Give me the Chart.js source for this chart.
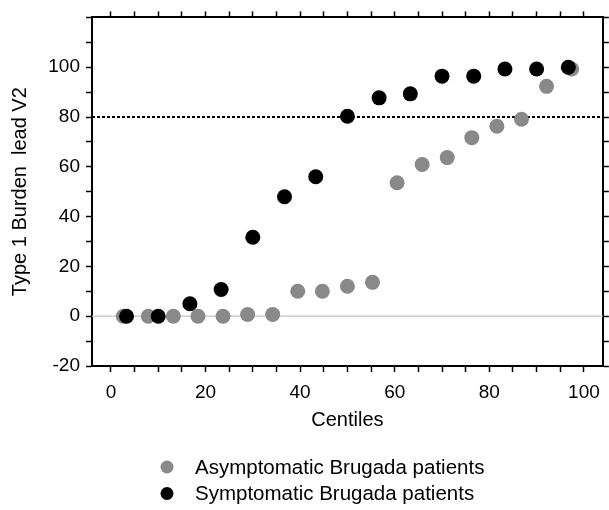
<!DOCTYPE html>
<html>
<head>
<meta charset="utf-8">
<script src="https://cdn.jsdelivr.net/npm/chart.js@4.4.1/dist/chart.umd.min.js"></script>
<style>
  html, body { margin: 0; padding: 0; background: #fff; }
  canvas { display: block; }
</style>
</head>
<body>
<canvas id="chart" width="609" height="510"></canvas>
<script>
// values (centile, type 1 burden %)
const asymCentiles = [2.6, 7.9, 13.2, 18.4, 23.7, 28.9, 34.2, 39.5, 44.7, 50.0, 55.3, 60.5, 65.8, 71.1, 76.3, 81.6, 86.8, 92.1, 97.4];
const asymBurden = [0, 0, 0, 0, 0, 0.7, 0.7, 10, 10, 12, 13.6, 53.6, 60.9, 63.7, 71.7, 76.3, 79.1, 92.3, 99.3];
const sympCentiles = [3.3, 10.0, 16.7, 23.3, 30.0, 36.7, 43.3, 50.0, 56.7, 63.3, 70.0, 76.7, 83.3, 90.0, 96.7];
const sympBurden = [0, 0, 5, 10.7, 31.7, 48, 56, 80.3, 87.7, 89.3, 96.4, 96.4, 99.3, 99.3, 100];

const seriesLabels = ["Asymptomatic Brugada patients", "Symptomatic Brugada patients"];
const xLabelTicks = [0, 20, 40, 60, 80, 100];
const yLabelTicks = [-20, 0, 20, 40, 60, 80, 100];
const thresholdLine = 80;

const FONT = "'Liberation Sans', Arial, sans-serif";

function toPoints(xs, ys) {
    return xs.map((x, i) => ({ x: x, y: ys[i] }));
}

// dotted threshold + thin zero line, drawn under the points
const refLines = {
    id: "refLines",
    beforeDatasetsDraw(chart) {
        const { ctx, chartArea, scales } = chart;
        ctx.save();
        let y0 = scales.y.getPixelForValue(0);
        ctx.strokeStyle = "#c4c4c4";
        ctx.lineWidth = 1.2;
        ctx.beginPath();
        ctx.moveTo(chartArea.left, y0);
        ctx.lineTo(chartArea.right, y0);
        ctx.stroke();

        let y80 = scales.y.getPixelForValue(thresholdLine);
        ctx.strokeStyle = "#000";
        ctx.lineWidth = 2;
        ctx.setLineDash([3, 2]);
        ctx.beginPath();
        ctx.moveTo(chartArea.left, y80);
        ctx.lineTo(chartArea.right, y80);
        ctx.stroke();
        ctx.restore();
    }
};

// stacked legend under the x title
const stackedLegend = {
    id: "stackedLegend",
    afterDraw(chart) {
        const ctx = chart.ctx;
        const sets = chart.data.datasets;
        ctx.save();
        ctx.font = "20.5px " + FONT;
        ctx.textBaseline = "middle";
        sets.forEach((ds, i) => {
            const y = 467 + i * 26.5;
            ctx.fillStyle = ds.backgroundColor;
            ctx.beginPath();
            ctx.arc(167, y, 6.5, 0, Math.PI * 2);
            ctx.fill();
            ctx.fillStyle = "#000";
            ctx.fillText(ds.label, 195, y + 1);
        });
        ctx.restore();
    }
};

const tickGrid = {
    display: true,
    drawOnChartArea: false,
    drawTicks: true,
    tickLength: 6,
    tickColor: "#000",
    tickWidth: 1.5
};
const frame = { display: true, color: "#000", width: 2 };

new Chart(document.getElementById("chart"), {
    type: "scatter",
    data: {
        datasets: [
            {
                label: seriesLabels[0],
                data: toPoints(asymCentiles, asymBurden),
                backgroundColor: "#898989",
                borderWidth: 0,
                pointRadius: 7.5,
                pointHoverRadius: 7.5,
                order: 2
            },
            {
                label: seriesLabels[1],
                data: toPoints(sympCentiles, sympBurden),
                backgroundColor: "#000000",
                borderWidth: 0,
                pointRadius: 7.5,
                pointHoverRadius: 7.5,
                order: 1
            }
        ]
    },
    options: {
        responsive: false,
        animation: false,
        layout: { padding: 0, autoPadding: false },
        plugins: {
            legend: { display: false },
            tooltip: { enabled: false }
        },
        scales: {
            x: {
                type: "linear",
                position: "bottom",
                min: -4,
                max: 104,
                grid: tickGrid,
                border: frame,
                ticks: {
                    stepSize: 5,
                    includeBounds: false,
                    autoSkip: false,
                    maxRotation: 0,
                    padding: 9,
                    color: "#000",
                    font: { family: FONT, size: 19 },
                    callback: (v) => (xLabelTicks.includes(v) ? v : "")
                },
                title: {
                    display: true,
                    text: "Centiles",
                    color: "#000",
                    font: { family: FONT, size: 20 },
                    padding: { top: 0, bottom: 78 }
                },
                afterFit: (s) => { s.height = 144; }
            },
            xTop: {
                type: "linear",
                position: "top",
                min: -4,
                max: 104,
                grid: tickGrid,
                border: frame,
                ticks: { display: false, stepSize: 5, includeBounds: false, autoSkip: false },
                afterFit: (s) => { s.height = 17; }
            },
            y: {
                type: "linear",
                position: "left",
                min: -20,
                max: 120,
                grid: tickGrid,
                border: frame,
                ticks: {
                    stepSize: 10,
                    autoSkip: false,
                    padding: 6,
                    color: "#000",
                    font: { family: FONT, size: 19 },
                    callback: (v) => (yLabelTicks.includes(v) ? v : "")
                },
                title: {
                    display: true,
                    text: "Type 1 Burden  lead V2",
                    color: "#000",
                    font: { family: FONT, size: 20 },
                    padding: { top: 8, bottom: 0 }
                },
                afterFit: (s) => { s.width = 92; }
            },
            yRight: {
                type: "linear",
                position: "right",
                min: -20,
                max: 120,
                grid: tickGrid,
                border: frame,
                ticks: { display: false, stepSize: 10, autoSkip: false },
                afterFit: (s) => { s.width = 6; }
            }
        }
    },
    plugins: [refLines, stackedLegend]
});
</script>
</body>
</html>
